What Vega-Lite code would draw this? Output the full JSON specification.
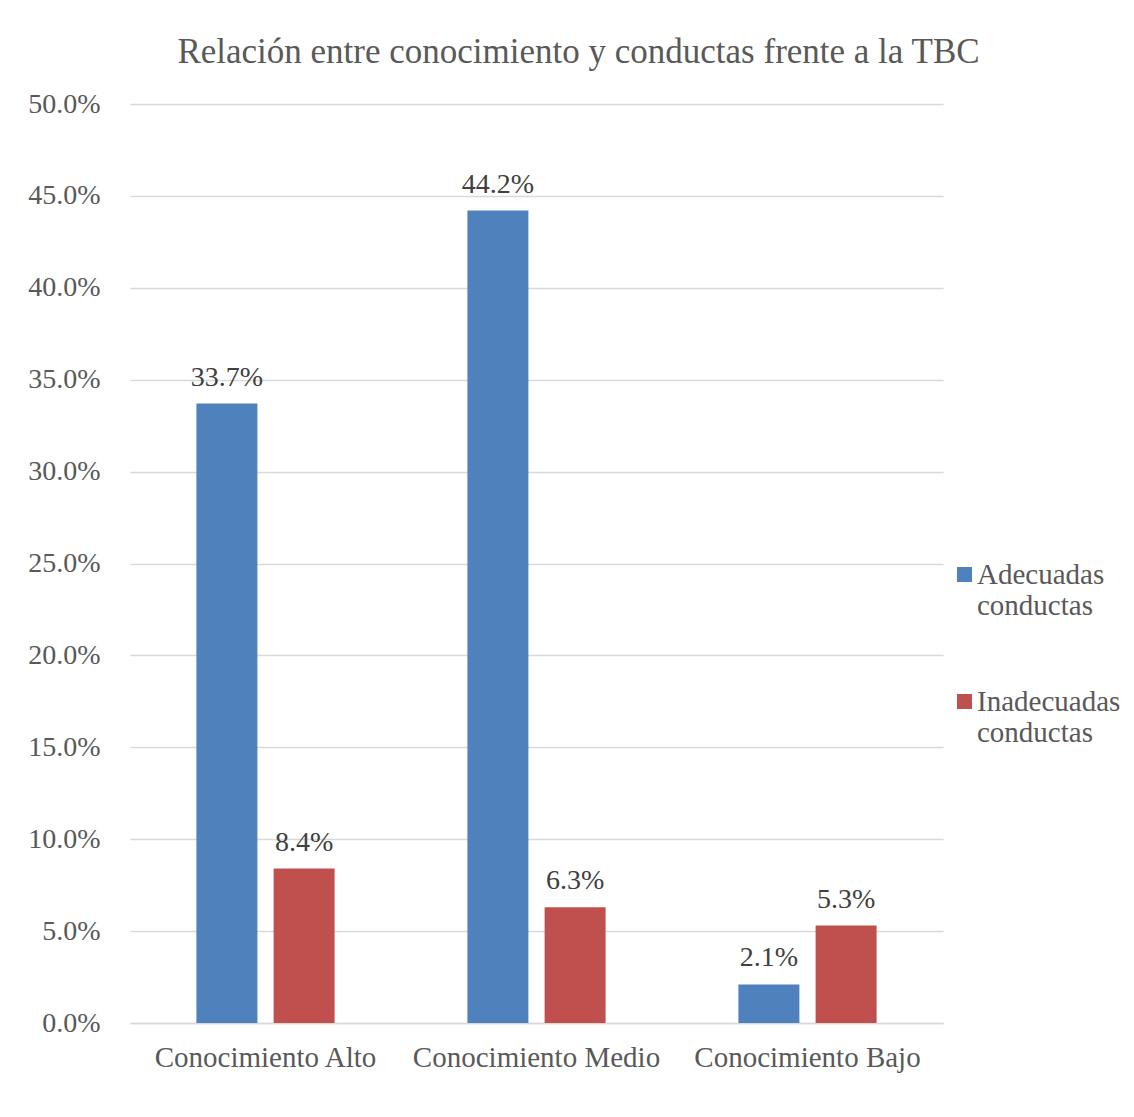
{
  "$schema": "https://vega.github.io/schema/vega-lite/v6.json",
  "width": 813,
  "height": 919,
  "autosize": {"type": "none"},
  "padding": {"left": 130, "top": 104, "right": 191, "bottom": 94},
  "background": "white",
  "title": {
    "text": "Relación entre conocimiento y conductas frente a la TBC",
    "font": "Liberation Serif",
    "fontSize": 35,
    "fontWeight": "normal",
    "color": "#595959",
    "anchor": "middle",
    "baseline": "alphabetic",
    "offset": -8,
    "dx": 42
  },
  "data": {
    "values": [
      {"nivel": "Conocimiento Alto", "conducta": "Adecuadas conductas", "valor": 0.337},
      {"nivel": "Conocimiento Alto", "conducta": "Inadecuadas conductas", "valor": 0.084},
      {"nivel": "Conocimiento Medio", "conducta": "Adecuadas conductas", "valor": 0.442},
      {"nivel": "Conocimiento Medio", "conducta": "Inadecuadas conductas", "valor": 0.063},
      {"nivel": "Conocimiento Bajo", "conducta": "Adecuadas conductas", "valor": 0.021},
      {"nivel": "Conocimiento Bajo", "conducta": "Inadecuadas conductas", "valor": 0.053}
    ]
  },
  "encoding": {
    "x": {
      "field": "nivel",
      "type": "nominal",
      "sort": ["Conocimiento Alto", "Conocimiento Medio", "Conocimiento Bajo"],
      "scale": {"paddingInner": 0.49, "paddingOuter": 0.245},
      "axis": {
        "title": null,
        "labelAngle": 0,
        "ticks": false,
        "domain": true,
        "domainColor": "#d9d9d9",
        "domainWidth": 1.5,
        "labelFont": "Liberation Serif",
        "labelFontSize": 29,
        "labelColor": "#595959",
        "labelPadding": 43,
        "labelLimit": 400,
        "labelBaseline": "alphabetic"
      }
    },
    "xOffset": {
      "field": "conducta",
      "type": "nominal",
      "sort": ["Adecuadas conductas", "Inadecuadas conductas"],
      "scale": {"paddingInner": 0.21, "paddingOuter": 0}
    },
    "y": {
      "field": "valor",
      "type": "quantitative",
      "scale": {"domain": [0, 0.5], "nice": false},
      "axis": {
        "title": null,
        "format": ".1%",
        "values": [0, 0.05, 0.1, 0.15, 0.2, 0.25, 0.3, 0.35, 0.4, 0.45, 0.5],
        "domain": false,
        "ticks": false,
        "grid": true,
        "gridColor": "#d9d9d9",
        "gridWidth": 1.5,
        "labelFont": "Liberation Serif",
        "labelFontSize": 28,
        "labelColor": "#595959",
        "labelPadding": 30
      }
    }
  },
  "layer": [
    {
      "mark": {"type": "bar"},
      "encoding": {
        "color": {
          "field": "conducta",
          "type": "nominal",
          "sort": ["Adecuadas conductas", "Inadecuadas conductas"],
          "scale": {"range": ["#4f81bd", "#c0504d"]},
          "legend": {
            "title": null,
            "orient": "none",
            "legendX": 820,
            "legendY": 456,
            "symbolType": "square",
            "symbolSize": 225,
            "symbolStrokeWidth": 0,
            "labelExpr": "split(datum.label, ' ')",
            "labelFont": "Liberation Serif",
            "labelFontSize": 29,
            "labelColor": "#595959",
            "labelLineHeight": 34,
            "labelLimit": 300,
            "labelOffset": -2,
            "rowPadding": 66
          }
        }
      }
    },
    {
      "mark": {
        "type": "text",
        "font": "Liberation Serif",
        "fontSize": 28,
        "color": "#404040",
        "baseline": "alphabetic",
        "dy": -18
      },
      "encoding": {
        "text": {"field": "valor", "type": "quantitative", "format": ".1%"}
      }
    }
  ],
  "config": {"view": {"stroke": null}}
}
